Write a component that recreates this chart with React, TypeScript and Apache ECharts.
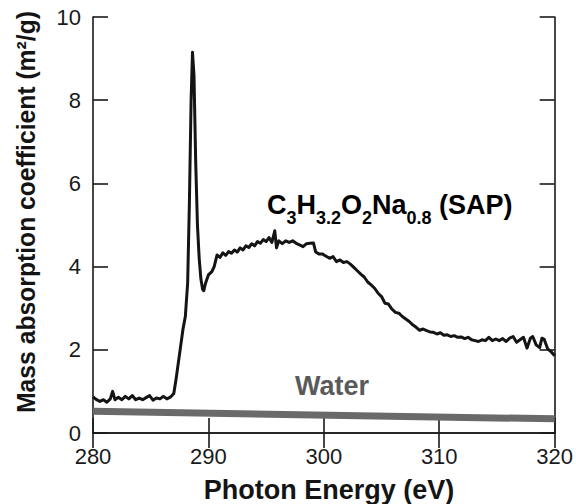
import React, { useEffect, useRef } from "react";
import * as echarts from "echarts";

const FONT = "'Liberation Sans', Arial, Helvetica, sans-serif";

const xTicks = [280, 290, 300, 310, 320];
const yTicks = [0, 2, 4, 6, 8, 10];

const sapEnergy = [
  280.0, 280.3, 280.6, 280.9, 281.2, 281.5, 281.7, 281.9, 282.2, 282.5, 282.8, 283.1, 283.4, 283.7,
  284.0, 284.3, 284.6, 284.9, 285.2, 285.5, 285.8, 286.1, 286.4, 286.7, 287.0, 287.2, 287.4, 287.6,
  287.8, 288.0, 288.2, 288.35, 288.5, 288.62, 288.75, 288.9, 289.05, 289.2, 289.35, 289.5, 289.6,
  289.75, 290.0, 290.3, 290.5, 290.75, 291.0, 291.25, 291.5, 291.75, 292.0, 292.25, 292.5, 292.75,
  293.0, 293.25, 293.5, 293.75, 294.0, 294.25, 294.5, 294.75, 295.0, 295.25, 295.5, 295.75, 295.9,
  296.1, 296.4, 296.7, 297.0, 297.3, 297.6, 297.9, 298.2, 298.5, 298.8, 299.1, 299.3, 299.6, 299.9,
  300.2, 300.5, 300.8, 301.1, 301.4, 301.7, 302.0, 302.3, 302.6, 302.9, 303.2, 303.5, 303.8, 304.1,
  304.4, 304.7, 305.0, 305.3, 305.6, 305.9, 306.2, 306.5, 306.8, 307.1, 307.4, 307.7, 308.0, 308.3,
  308.6, 308.9, 309.2, 309.5, 309.8, 310.1, 310.4, 310.7, 311.0, 311.3, 311.6, 311.9, 312.2, 312.5,
  312.8, 313.1, 313.4, 313.7, 314.0, 314.3, 314.6, 314.9, 315.2, 315.5, 315.8, 316.1, 316.4, 316.7,
  317.0, 317.3, 317.6, 317.9, 318.1, 318.4, 318.7, 318.9, 319.1, 319.4, 319.7, 320.0,
];

const sapValue = [
  0.87, 0.8, 0.76, 0.8, 0.74, 0.82, 1.0, 0.8, 0.86, 0.8, 0.88, 0.82, 0.9, 0.8,
  0.84, 0.8, 0.85, 0.9, 0.79, 0.84, 0.82, 0.88, 0.82, 0.86, 0.95, 1.3, 1.7, 2.1,
  2.5, 2.8, 3.6, 5.5, 8.0, 9.15, 8.6, 6.5, 5.0, 4.2, 3.7, 3.45, 3.42,
  3.6, 3.8, 3.88, 4.0, 4.28, 4.22, 4.33, 4.27, 4.36, 4.32, 4.4, 4.35, 4.45,
  4.4, 4.5, 4.46, 4.55, 4.5, 4.6, 4.56, 4.65, 4.6, 4.7, 4.58, 4.86, 4.45,
  4.62, 4.55, 4.62, 4.58, 4.62, 4.56, 4.52, 4.48, 4.55, 4.56, 4.57, 4.35, 4.3, 4.3,
  4.25, 4.2, 4.24, 4.12, 4.16, 4.1, 4.12, 4.06, 3.98, 3.9, 3.82, 3.75, 3.63, 3.56,
  3.48, 3.36, 3.28, 3.12, 3.1, 2.98, 2.9, 2.88, 2.8, 2.74, 2.68, 2.6, 2.54, 2.47,
  2.5, 2.46, 2.43, 2.42, 2.38, 2.41, 2.35, 2.36, 2.32, 2.34, 2.3, 2.31, 2.27, 2.3,
  2.24, 2.22, 2.2, 2.24, 2.22, 2.3, 2.22, 2.26, 2.22, 2.27, 2.2, 2.28, 2.32, 2.18,
  2.24, 2.3, 2.04, 2.28, 2.32, 2.12, 2.05, 2.28, 2.25, 2.02, 1.95, 1.86,
];

const waterEnergy = [280, 320];
const waterValue = [0.52, 0.34];

const sapLabel = "{m|C}{s|3}{m|H}{s|3.2}{m|O}{s|2}{m|Na}{s|0.8}{m| (SAP)}";
const waterLabel = "Water";
const xTitle = "Photon Energy (eV)";
const yTitle = "Mass absorption coefficient (m²/g)";

export default function App() {
  const ref = useRef<HTMLDivElement>(null);
  useEffect(() => {
    if (!ref.current) return;
    const chart = echarts.init(ref.current, null, { renderer: "svg" });
    const axisLine = { show: true, lineStyle: { color: "#1a1a1a", width: 1.6 } };
    const tick = { show: true, inside: true, length: 15, lineStyle: { color: "#1a1a1a", width: 1.6 } };
    chart.setOption({
      animation: false,
      backgroundColor: "#ffffff",
      grid: { left: 93, right: 18, top: 17, bottom: 71, containLabel: false },
      xAxis: [
        {
          type: "value", min: 280, max: 320, interval: 10, position: "bottom",
          axisLine, axisTick: tick, splitLine: { show: false },
          axisLabel: { fontFamily: FONT, fontSize: 22, color: "#1a1a1a", margin: 12,
            formatter: (v: number) => (xTicks.includes(v) ? String(v) : "") },
        },
        {
          type: "value", min: 280, max: 320, interval: 10, position: "top",
          axisLine, axisTick: tick, splitLine: { show: false }, axisLabel: { show: false },
        },
      ],
      yAxis: [
        {
          type: "value", min: 0, max: 10, interval: 2, position: "left",
          axisLine, axisTick: tick, splitLine: { show: false },
          axisLabel: { fontFamily: FONT, fontSize: 22, color: "#1a1a1a", margin: 12,
            formatter: (v: number) => (yTicks.includes(v) ? String(v) : "") },
        },
        {
          type: "value", min: 0, max: 10, interval: 2, position: "right",
          axisLine, axisTick: tick, splitLine: { show: false }, axisLabel: { show: false },
        },
      ],
      series: [
        {
          type: "line", xAxisIndex: 0, yAxisIndex: 0, showSymbol: false, silent: true,
          data: waterEnergy.map((e, i) => [e, waterValue[i]]),
          lineStyle: { color: "#6a6a6a", width: 7 }, z: 2,
        },
        {
          type: "line", xAxisIndex: 0, yAxisIndex: 0, showSymbol: false, silent: true,
          data: sapEnergy.map((e, i) => [e, sapValue[i]]),
          lineStyle: { color: "#141414", width: 3, join: "round" }, z: 3,
        },
      ],
      graphic: [
        {
          type: "text", left: 267, top: 191, silent: true,
          style: {
            text: sapLabel,
            fontFamily: FONT,
            rich: {
              m: { fontFamily: FONT, fontSize: 27, fontWeight: "bold", color: "#141414", lineHeight: 36, verticalAlign: "top" },
              s: { fontFamily: FONT, fontSize: 18, fontWeight: "bold", color: "#141414", lineHeight: 18, verticalAlign: "bottom" },
            },
          },
        },
        {
          type: "text", x: 295, y: 386, silent: true,
          style: { text: waterLabel, fontFamily: FONT, fontSize: 27, fontWeight: "bold", fill: "#5a5a5a",
            textAlign: "left", textVerticalAlign: "middle" },
        },
        {
          type: "text", x: 329, y: 490, silent: true,
          style: { text: xTitle, fontFamily: FONT, fontSize: 27, fontWeight: "bold", fill: "#141414",
            textAlign: "center", textVerticalAlign: "middle" },
        },
        {
          type: "text", x: 26, y: 212, rotation: Math.PI / 2, scaleX: 0.95, silent: true,
          style: { text: yTitle, fontFamily: FONT, fontSize: 26, fontWeight: "bold", fill: "#141414",
            textAlign: "center", textVerticalAlign: "middle" },
        },
      ],
    });
    return () => chart.dispose();
  }, []);
  return <div ref={ref} style={{ width: 576, height: 504, position: "absolute", left: 0, top: 0 }} />;
}
